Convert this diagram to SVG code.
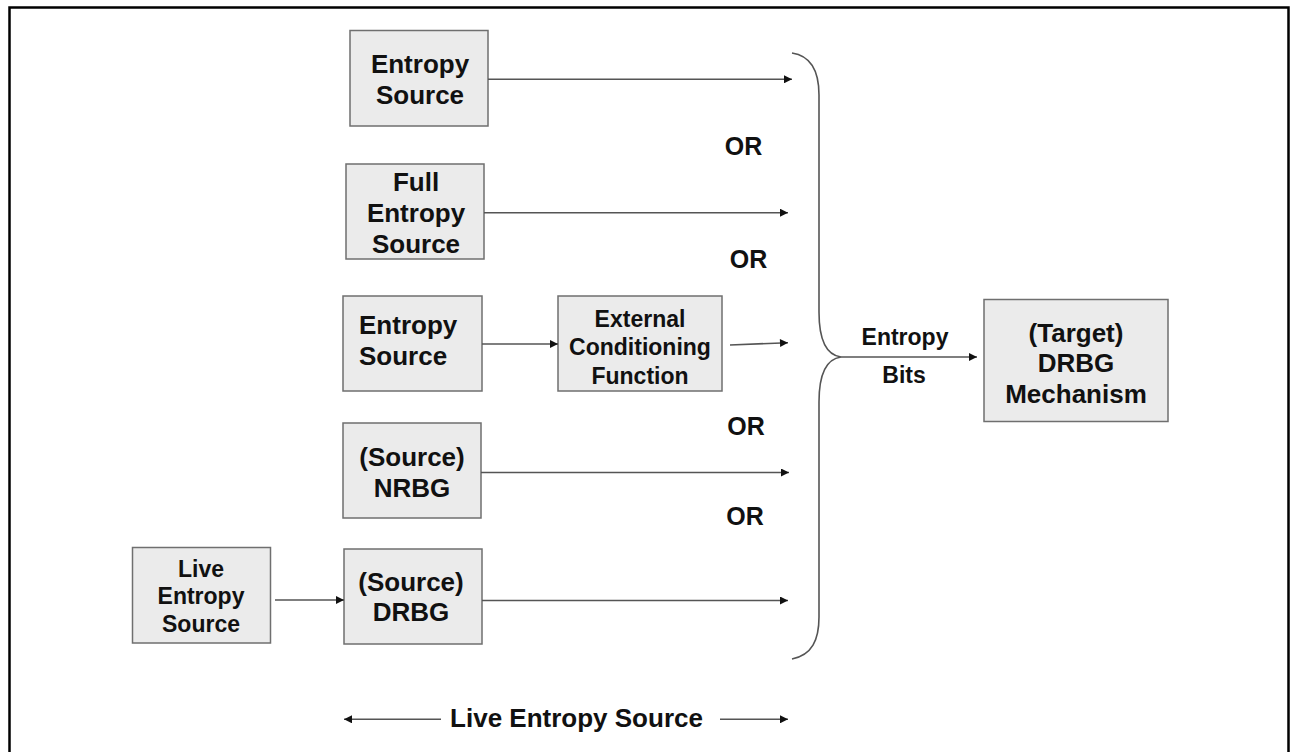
<svg xmlns="http://www.w3.org/2000/svg" width="1291" height="752" viewBox="0 0 1291 752">
  <defs>
    <style>
      .box { fill: #ebebeb; stroke: #6f6f6f; stroke-width: 1.5; }
      .lbl { font-family: "Liberation Sans", Arial, sans-serif; font-weight: bold; fill: #111; text-anchor: middle; }
      .big { font-size: 26px; }
      .mid { font-size: 23px; }
      .or { font-size: 25px; }
      .wire { fill: none; stroke: #555; stroke-width: 1.6; }
    </style>
    <marker id="head" viewBox="0 0 10 10" refX="10" refY="5" markerWidth="10" markerHeight="8" markerUnits="userSpaceOnUse" orient="auto">
      <path d="M0,0 L10,5 L0,10 Z" fill="#111"/>
    </marker>
  </defs>

  <rect width="1291" height="752" fill="#ffffff"/>
  <!-- outer frame (open at the bottom edge) -->
  <path d="M9.5,760 L9.5,7.5 L1288.5,7.5 L1288.5,760" fill="none" stroke="#000" stroke-width="2.5"/>

  <g id="entropy-source-1">
    <rect class="box" x="350" y="30.5" width="138" height="95.5"/>
    <text class="lbl big" x="420" y="72.5">Entropy</text>
    <text class="lbl big" x="420" y="103.5">Source</text>
  </g>

  <g id="full-entropy-source">
    <rect class="box" x="346" y="164" width="138" height="95"/>
    <text class="lbl big" x="416" y="191">Full</text>
    <text class="lbl big" x="416" y="222">Entropy</text>
    <text class="lbl big" x="416" y="253">Source</text>
  </g>

  <g id="entropy-source-2">
    <rect class="box" x="343" y="296" width="139" height="95"/>
    <text class="lbl big" x="359" y="334" text-anchor="start" style="text-anchor:start">Entropy</text>
    <text class="lbl big" x="359" y="365" style="text-anchor:start">Source</text>
  </g>

  <g id="external-conditioning">
    <rect class="box" x="558" y="296" width="164" height="95"/>
    <text class="lbl mid" x="640" y="326.5">External</text>
    <text class="lbl mid" x="640" y="355">Conditioning</text>
    <text class="lbl mid" x="640" y="383.5">Function</text>
  </g>

  <g id="source-nrbg">
    <rect class="box" x="343" y="423" width="138" height="95"/>
    <text class="lbl big" x="412" y="466">(Source)</text>
    <text class="lbl big" x="412" y="497">NRBG</text>
  </g>

  <g id="source-drbg">
    <rect class="box" x="344" y="549" width="138" height="95"/>
    <text class="lbl big" x="411" y="590.5">(Source)</text>
    <text class="lbl big" x="411" y="621">DRBG</text>
  </g>

  <g id="live-entropy-source">
    <rect class="box" x="132.5" y="547.5" width="138" height="95.5"/>
    <text class="lbl mid" x="201" y="577">Live</text>
    <text class="lbl mid" x="201" y="604">Entropy</text>
    <text class="lbl mid" x="201" y="631.5">Source</text>
  </g>

  <g id="target-drbg">
    <rect class="box" x="984" y="299.5" width="184" height="122"/>
    <text class="lbl big" x="1076" y="342">(Target)</text>
    <text class="lbl big" x="1076" y="372">DRBG</text>
    <text class="lbl big" x="1076" y="403">Mechanism</text>
  </g>

  <g id="connectors">
    <line class="wire" x1="488" y1="79.3" x2="792" y2="79.3" marker-end="url(#head)"/>
    <line class="wire" x1="484" y1="212.7" x2="788" y2="212.7" marker-end="url(#head)"/>
    <line class="wire" x1="482" y1="344" x2="558" y2="344" marker-end="url(#head)"/>
    <line class="wire" x1="730" y1="345" x2="788" y2="342.7" marker-end="url(#head)"/>
    <line class="wire" x1="481" y1="472.5" x2="789" y2="472.5" marker-end="url(#head)"/>
    <line class="wire" x1="482" y1="600.5" x2="788" y2="600.5" marker-end="url(#head)"/>
    <line class="wire" x1="275" y1="600" x2="344" y2="600" marker-end="url(#head)"/>
    <!-- brace gathering the alternatives -->
    <path class="wire" d="M792,53 C812,56 819,72 819,95 L819,312 C819,338 826,355 841,357 C826,359 819,376 819,402 L819,617 C819,640 812,655 792,659"/>
    <line class="wire" x1="841" y1="357" x2="977" y2="357" marker-end="url(#head)"/>
    <!-- span arrows under the sources -->
    <line class="wire" x1="441" y1="719.3" x2="344" y2="719.3" marker-end="url(#head)"/>
    <line class="wire" x1="720" y1="719.3" x2="788" y2="719.3" marker-end="url(#head)"/>
  </g>

  <g id="labels">
    <text class="lbl or" x="743.5" y="155">OR</text>
    <text class="lbl or" x="748.5" y="268">OR</text>
    <text class="lbl or" x="746" y="435">OR</text>
    <text class="lbl or" x="745" y="525">OR</text>
    <text class="lbl mid" x="905" y="345">Entropy</text>
    <text class="lbl mid" x="904" y="383">Bits</text>
    <text class="lbl big" x="576.5" y="727">Live Entropy Source</text>
  </g>
</svg>
